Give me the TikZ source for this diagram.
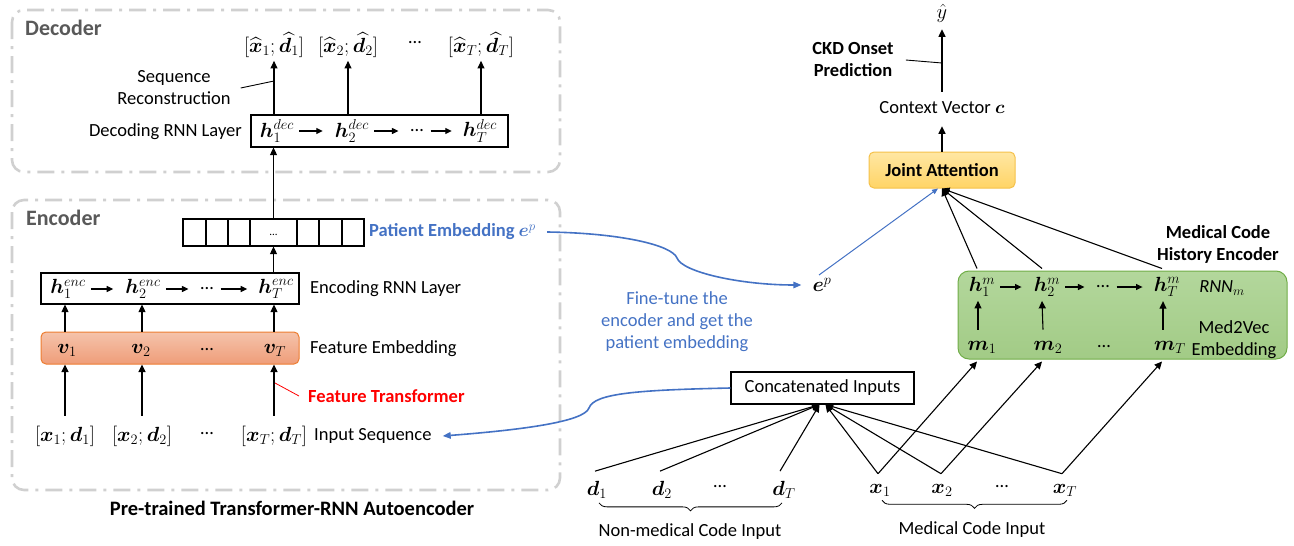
\RequirePackage{fix-cm}
\documentclass[tikz,border=0pt]{standalone}
\usepackage{amsmath}
\usepackage{fontspec}
\setmainfont{Carlito}
\usepackage{bm}
\usetikzlibrary{arrows.meta,calc,decorations.pathreplacing}
\definecolor{myblue}{HTML}{4472C4}
\definecolor{labgray}{HTML}{595959}
\definecolor{boxgray}{HTML}{D0D0D0}
\definecolor{orgtop}{HTML}{F5C3AB}
\definecolor{orgbot}{HTML}{EF9D79}
\definecolor{orgline}{HTML}{ED7D31}
\definecolor{yeltop}{HTML}{FFE7A3}
\definecolor{yelbot}{HTML}{FFD466}
\definecolor{yelline}{HTML}{F5C14A}
\definecolor{grntop}{HTML}{B3D79C}
\definecolor{grnbot}{HTML}{A2CB86}
\definecolor{grnline}{HTML}{70AD47}
\newcommand{\eld}{…}
\newcommand{\cdt}{\raisebox{0.28em}{…}}
\begin{document}
\begin{tikzpicture}[x=1pt,y=-1pt,
  every node/.style={font=\fontsize{18.5}{22}\selectfont, inner sep=1pt},
  mth/.style={font=\fontsize{20.5}{24}\selectfont},
  bfnode/.style={font=\fontsize{18.5}{22}\selectfont\bfseries},
  ln/.style={line width=1.1pt},
  arr/.style={ln,-{Triangle[length=7.5pt,width=7pt]}},
  harr/.style={ln,-{Triangle[length=6.5pt,width=6pt]},shorten <=4pt,shorten >=11pt},
  darr/.style={ln,-{Triangle[length=6.5pt,width=6pt]},shorten <=7pt,shorten >=10pt},
  dashbox/.style={draw=boxgray,line width=2.6pt,rounded corners=12pt,dash pattern=on 17pt off 7pt on 3pt off 7pt},
  layerbox/.style={draw,line width=1.2pt,minimum width=257pt,minimum height=32pt},
  featbox/.style={draw=orgline,line width=1pt,rounded corners=5pt,top color=orgtop,bottom color=orgbot,minimum width=258pt,minimum height=32pt},
  jabox/.style={draw=yelline,line width=1pt,rounded corners=5pt,top color=yeltop,bottom color=yelbot,minimum width=146pt,minimum height=36pt},
  greenbox/.style={draw=grnline,line width=1pt,rounded corners=11pt,top color=grntop,bottom color=grnbot,minimum width=329pt,minimum height=88pt},
  bluearr/.style={draw=myblue,line width=1.6pt,-{Triangle[length=8pt,width=6.5pt]}},
  brace/.style={decorate,decoration={brace,mirror,amplitude=8pt},line width=0.8pt}
]
\useasboundingbox (0,0) rectangle (1294,546);

% ---------------- Decoder ----------------
\draw[dashbox] (12,10) rectangle (560,172);
\node[anchor=west,font=\fontsize{22}{26}\selectfont\bfseries,text=labgray] (declab) at (24,28) {Decoder};
\node[layerbox] (decbox) at (379.5,131) {};
\node[mth] (hd1) at (277,131) {$\bm{h}_1^{dec}$};
\node[mth] (hd2) at (352,131) {$\bm{h}_2^{dec}$};
\node (hdd) at (417,131) {\eld};
\node[mth] (hdT) at (480,131) {$\bm{h}_T^{dec}$};
\draw[harr] (hd1.east) -- (hd2.west |- hd1.east);
\draw[harr] (hd2.east) -- (hdd.west |- hd2.east);
\draw[darr,shorten <=6pt] (hdd.east |- hd2.east) -- (hdT.west |- hd2.east);
\node[anchor=east] (declayer) at (243,132) {Decoding RNN Layer};

\node[mth] (o1) at (274,45) {$[\widehat{\bm{x}}_1;\widehat{\bm{d}}_1]$};
\node[mth] (o2) at (348,45) {$[\widehat{\bm{x}}_2;\widehat{\bm{d}}_2]$};
\node (od) at (415,45) {\cdt};
\node[mth] (oT) at (481,45) {$[\widehat{\bm{x}}_T;\widehat{\bm{d}}_T]$};
\draw[arr,shorten >=2pt] (o1 |- decbox.north) -- (o1.south);
\draw[arr,shorten >=2pt] (o2 |- decbox.north) -- (o2.south);
\draw[arr,shorten >=2pt] (oT |- decbox.north) -- (oT.south);

\node[align=center] (seqrec) at (174,88) {Sequence\\Reconstruction};
\coordinate (srp) at (274,81);
\draw[line width=0.9pt] ([xshift=9pt]seqrec.east) -- (srp);

% ---------------- Encoder ----------------
\draw[dashbox] (12,200) rectangle (560,490);
\node[anchor=west,font=\fontsize{22}{26}\selectfont\bfseries,text=labgray] (enclab) at (25,218) {Encoder};

\node[draw,line width=1.2pt,minimum width=181pt,minimum height=27pt,inner sep=0pt] (emb) at (273.5,232.5) {};
\foreach \x in {206,228,250,297,319,342} \draw[line width=1.2pt] (\x,219) -- (\x,246);
\node[font=\fontsize{11}{12}\selectfont] (embdots) at (273.5,235) {...};
\node[anchor=west,text=myblue,font=\fontsize{18.5}{22}\selectfont\bfseries] (pelab) at (368,232) {Patient Embedding $\bm{e}^{p}$};
\draw[arr] (emb.north) -- (emb.north |- decbox.south);

\node[layerbox,minimum width=258pt,minimum height=31pt] (encbox) at (170,288.5) {};
\node[mth] (he1) at (68,289) {$\bm{h}_1^{enc}$};
\node[mth] (he2) at (143,289) {$\bm{h}_2^{enc}$};
\node (hed) at (207,289) {\eld};
\node[mth] (heT) at (276,289) {$\bm{h}_T^{enc}$};
\draw[harr] (he1.east) -- (he2.west |- he1.east);
\draw[harr] (he2.east) -- (hed.west |- he2.east);
\draw[darr,shorten <=6pt] (hed.east |- he2.east) -- (heT.west |- he2.east);
\node[anchor=west] (enclayer) at (309,289) {Encoding RNN Layer};
\draw[arr] (emb.south |- encbox.north) -- (emb.south);

\node[featbox] (featbox) at (170,348) {};
\node[mth] (v1) at (67,350) {$\bm{v}_1$};
\node[mth] (v2) at (141,350) {$\bm{v}_2$};
\node (vd) at (207,350) {\eld};
\node[mth] (vT) at (275,350) {$\bm{v}_T$};
\node[anchor=west] (featlab) at (309,349) {Feature Embedding};

\node[mth] (i1) at (65,436) {$[\bm{x}_1;\bm{d}_1]$};
\node[mth] (i2) at (142,436) {$[\bm{x}_2;\bm{d}_2]$};
\node (id) at (207,436) {\cdt};
\node[mth] (iT) at (274,436) {$[\bm{x}_T;\bm{d}_T]$};
\node[anchor=west] (inseq) at (313,436) {Input Sequence};

\draw[arr] (i1 |- featbox.north) -- (i1 |- encbox.south);
\draw[arr] (i2 |- featbox.north) -- (i2 |- encbox.south);
\draw[arr] (iT |- featbox.north) -- (iT |- encbox.south);
\draw[arr,shorten <=9pt] (i1.north) -- (i1 |- featbox.south);
\draw[arr,shorten <=9pt] (i2.north) -- (i2 |- featbox.south);
\draw[arr,shorten <=9pt] (iT.north) -- (iT |- featbox.south);

\node[anchor=west,text=red,font=\fontsize{18.5}{22}\selectfont\bfseries] (ftlab) at (307,396) {Feature Transformer};
\coordinate (ftp) at (275,383);
\draw[red,line width=0.8pt] ([xshift=-8pt]ftlab.west) -- (ftp);

\node[font=\fontsize{20.5}{24}\selectfont\bfseries] (title) at (292,508) {Pre-trained Transformer-RNN Autoencoder};

% ---------------- Right part ----------------
\node[mth] (yhat) at (942,13) {$\hat{y}$};
\node (ctx) at (942,108) {Context Vector $\bm{c}$};
\node[jabox] (ja) at (942,170) {\bfseries Joint Attention};
\draw[arr,shorten >=11pt] (ja.north) -- (ja.north |- ctx.south);
\draw[arr,shorten <=9pt,shorten >=6pt] (ctx.north) -- (ctx.north |- yhat.south);
\node[bfnode,align=center] (ckd) at (853,60) {CKD Onset\\Prediction};
\coordinate (ckdp) at (942,63);
\draw[line width=0.9pt] ([xshift=11pt]ckd.east) -- (ckdp);

\node[greenbox] (gb) at (1122.5,315) {};
\node[bfnode,align=center] (mche) at (1218,244) {Medical Code\\History Encoder};
\node[mth] (hm1) at (982,287) {$\bm{h}_1^{m}$};
\node[mth] (hm2) at (1047,287) {$\bm{h}_2^{m}$};
\node (hmd) at (1103,287) {\eld};
\node[mth] (hmT) at (1167,287) {$\bm{h}_T^{m}$};
\draw[harr] (hm1.east) -- (hm2.west |- hm1.east);
\draw[harr] (hm2.east) -- (hmd.west |- hm2.east);
\draw[darr,shorten <=6pt] (hmd.east |- hm2.east) -- (hmT.west |- hm2.east);
\node (rnn) at (1222,288) {\itshape RNN$_m$};
\node[mth] (m1) at (982,347) {$\bm{m}_1$};
\node[mth] (m2) at (1048,347) {$\bm{m}_2$};
\node (md) at (1104,347) {\eld};
\node[mth] (mT) at (1170,347) {$\bm{m}_T$};
\node[align=center] (m2v) at (1234,340) {Med2Vec\\Embedding};
\draw[arr] ($(m1.north)+(-4,-10)$) -- ($(hm1.south)+(-4,3)$);
\draw[arr] ($(m2.north)+(-5,-10)$) -- ($(hm2.south)+(-5,3)$);
\draw[arr] ($(mT.north)+(-7,-10)$) -- ($(hmT.south)+(-4,3)$);

\draw[arr] ($(hm1 |- gb.north)+(-5,-2)$) -- (ja.south);
\draw[arr] ($(hm2 |- gb.north)+(-5,-2)$) -- (ja.south);
\draw[arr] ($(hmT |- gb.north)+(-5,-2)$) -- (ja.south);

\node[mth] (ep) at (822,285) {$\bm{e}^{p}$};
\draw[myblue,line width=1pt,-{Triangle[length=6pt,width=5pt]}] ($(ep.north)+(-3,-2)$) -- ([xshift=-4pt]ja.south);
\draw[bluearr] ([xshift=10pt]pelab.east) .. controls (620,233) and (672,245) .. (677,258) .. controls (682,272) and (740,285) .. ([xshift=-10pt]ep.west);

\node[text=myblue,align=center] (ftune) at (677,322) {Fine-tune the\\encoder and get the\\patient embedding};

\node[draw,line width=1.2pt,minimum width=183pt,minimum height=32pt] (cc) at (822.5,388) {Concatenated Inputs};
\draw[bluearr] (cc.west) .. controls (640,390) and (594,393) .. (589,408) .. controls (584,422) and (520,430) .. ([xshift=10pt]inseq.east);

\node[mth] (d1) at (597,490) {$\bm{d}_1$};
\node[mth] (d2) at (662,490) {$\bm{d}_2$};
\node (dd) at (720,489) {\cdt};
\node[mth] (dT) at (784,490) {$\bm{d}_T$};
\node[mth] (x1) at (880,490) {$\bm{x}_1$};
\node[mth] (x2) at (942,490) {$\bm{x}_2$};
\node (xd) at (1002,489) {\cdt};
\node[mth] (xT) at (1065,490) {$\bm{x}_T$};

\draw[arr] ($(d1.north)+(-2,-9)$) -- ($(cc.south)+(-3,0)$);
\draw[arr] ($(d2.north)+(-2,-9)$) -- ($(cc.south)+(-3,0)$);
\draw[arr] ($(dT.north)+(-4,-9)$) -- ($(cc.south)+(-3,0)$);
\draw[arr] ($(x1.north)+(-2,-9)$) -- ($(cc.south)+(3,0)$);
\draw[arr] ($(x2.north)+(-1,-9)$) -- ($(cc.south)+(3,0)$);
\draw[arr] ($(xT.north)+(-3,-9)$) -- ($(cc.south)+(3,0)$);
\draw[arr] ($(x1.north)+(-2,-9)$) -- ($(m1 |- gb.south)+(-5,2)$);
\draw[arr] ($(x2.north)+(-1,-9)$) -- ($(m2 |- gb.south)+(-6,2)$);
\draw[arr] ($(xT.north)+(-3,-9)$) -- ($(mT |- gb.south)+(-8,2)$);

\draw[brace] ($(d1.south)+(2,3)$) -- ($(dT.south)+(-2,3)$);
\draw[brace] ($(x1.south)+(2,3)$) -- ($(xT.south)+(2,3)$);
\node (nonmed) at (690,532) {Non-medical Code Input};
\node (med) at (972,530) {Medical Code Input};
\end{tikzpicture}
\end{document}
